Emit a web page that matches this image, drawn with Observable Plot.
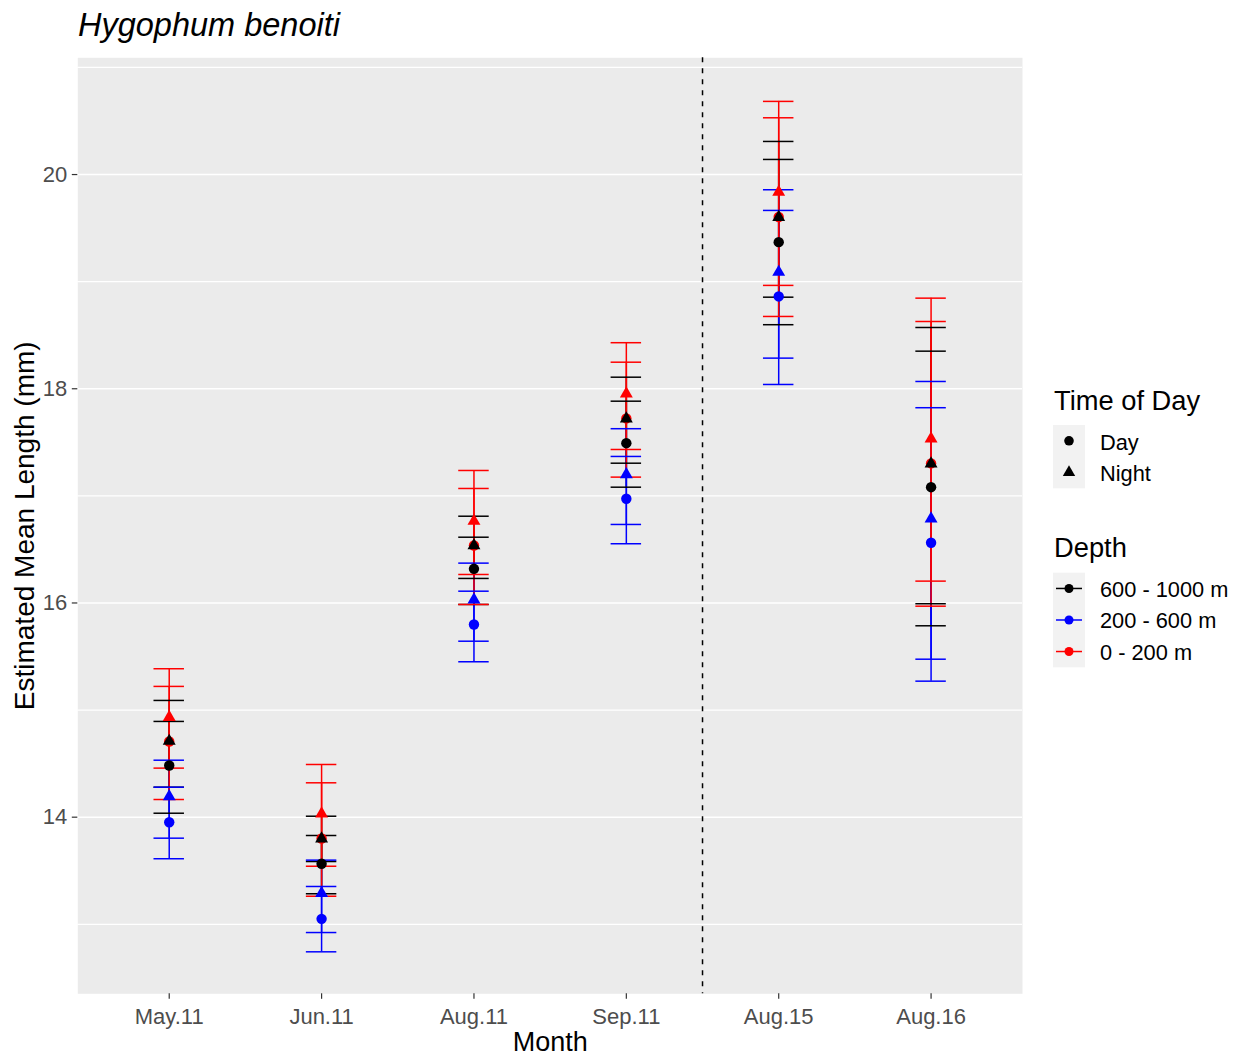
<!DOCTYPE html>
<html><head><meta charset="utf-8">
<script src="https://cdn.jsdelivr.net/npm/d3@7"></script>
<script src="https://cdn.jsdelivr.net/npm/@observablehq/plot@0.6"></script>
<style>
body{margin:0;background:#fff;font-family:"Liberation Sans",Arial,sans-serif;}
#wrap{position:relative;width:1239px;height:1057px;overflow:hidden;}
#title{position:relative;height:50px;}
#title span{position:absolute;left:78px;top:9px;font-size:32.5px;font-style:italic;line-height:32px;color:#000;white-space:nowrap;}
#legend{position:absolute;left:1040px;top:370px;}
</style></head><body>
<div id="wrap"><div id="title"><span>Hygophum benoiti</span></div><div id="chart"></div><svg id="legend" width="199" height="310"></svg></div>
<script>
const months = ["May.11", "Jun.11", "Aug.11", "Sep.11", "Aug.15", "Aug.16"];
const depthLevels = ["600 - 1000 m", "200 - 600 m", "0 - 200 m"];
const depthColors = ["#000000", "#0000ff", "#ff0000"];
const times = ["Day", "Night"];
const majorTicks = [14, 16, 18, 20];
const minorTicks = [13, 15, 17, 19, 21];

// Estimated mean length (mm) with interval bounds, one value per month
const deepDayMean = [14.483, 13.565, 16.319, 17.492, 19.369, 17.081];
const deepDayLo = [14.037, 13.285, 15.986, 17.081, 18.598, 15.787];
const deepDayHi = [14.894, 13.829, 16.614, 17.884, 20.141, 18.351];
const deepNightMean = [14.710, 13.798, 16.537, 17.720, 19.602, 17.300];
const deepNightLo = [14.280, 13.586, 16.229, 17.305, 18.855, 15.993];
const deepNightHi = [15.090, 14.009, 16.810, 18.108, 20.309, 18.572];
const midDayMean = [13.953, 13.051, 15.799, 16.973, 18.862, 16.562];
const midDayLo = [13.612, 12.743, 15.451, 16.553, 18.040, 15.270];
const midDayHi = [14.280, 13.353, 16.110, 17.368, 19.665, 17.823];
const midNightMean = [14.193, 13.290, 16.030, 17.200, 19.089, 16.786];
const midNightLo = [13.804, 12.923, 15.643, 16.733, 18.286, 15.475];
const midNightHi = [14.532, 13.599, 16.372, 17.627, 19.858, 18.068];
const shallowDayMean = [14.707, 13.801, 16.537, 17.723, 19.604, 17.303];
const shallowDayLo = [14.165, 13.262, 15.986, 17.175, 18.675, 15.970];
const shallowDayHi = [15.221, 14.321, 17.069, 18.248, 20.530, 18.628];
const shallowNightMean = [14.934, 14.032, 16.764, 17.953, 19.836, 17.533];
const shallowNightLo = [14.458, 13.542, 16.266, 17.433, 18.965, 16.204];
const shallowNightHi = [15.386, 14.492, 17.237, 18.430, 20.683, 18.846];

const series = [
  {depth: depthLevels[0], time: "Day", mean: deepDayMean, lo: deepDayLo, hi: deepDayHi},
  {depth: depthLevels[0], time: "Night", mean: deepNightMean, lo: deepNightLo, hi: deepNightHi},
  {depth: depthLevels[1], time: "Day", mean: midDayMean, lo: midDayLo, hi: midDayHi},
  {depth: depthLevels[1], time: "Night", mean: midNightMean, lo: midNightLo, hi: midNightHi},
  {depth: depthLevels[2], time: "Day", mean: shallowDayMean, lo: shallowDayLo, hi: shallowDayHi},
  {depth: depthLevels[2], time: "Night", mean: shallowNightMean, lo: shallowNightLo, hi: shallowNightHi}
];
const rows = series.flatMap(s => months.map((m, i) => ({
  month: m, i, depth: s.depth, time: s.time, mean: s.mean[i], lo: s.lo[i], hi: s.hi[i]
})));
const depthIdx = d => depthLevels.indexOf(d.depth);
const barRows = rows.slice().sort((a, b) => depthIdx(a) - depthIdx(b));
const pointOrder = [2, 0, 1];
const pointRows = rows.slice().sort((a, b) => pointOrder.indexOf(depthIdx(a)) - pointOrder.indexOf(depthIdx(b)));
const capHalf = 0.1;
const breakPos = (months.indexOf("Sep.11") + months.indexOf("Aug.15")) / 2;

const chart = Plot.plot({
  width: 1239, height: 1007,
  marginLeft: 77.3, marginRight: 217, marginTop: 7.3, marginBottom: 63.7,
  style: {fontFamily: "Liberation Sans, Arial, sans-serif", background: "white", overflow: "visible"},
  x: {domain: [-0.6, months.length - 1 + 0.6], axis: null},
  y: {domain: [12.351, 21.09], axis: null},
  color: {domain: depthLevels, range: depthColors},
  marks: [
    Plot.frame({fill: "#ebebeb", stroke: "none"}),
    Plot.gridY(minorTicks, {stroke: "white", strokeOpacity: 1, strokeWidth: 1.2}),
    Plot.gridY(majorTicks, {stroke: "white", strokeOpacity: 1, strokeWidth: 1.6}),
    Plot.axisY(majorTicks, {tickSize: 5.5, tickPadding: 5, fontSize: 22, fill: "#4d4d4d", stroke: "#333333", strokeWidth: 1.2, label: null, tickFormat: d => String(d)}),
    Plot.axisX(d3.range(months.length), {tickSize: 5.5, tickPadding: 9, fontSize: 22, fill: "#4d4d4d", stroke: "#333333", strokeWidth: 1.2, label: null, tickFormat: i => months[i]}),
    Plot.ruleX([breakPos], {stroke: "black", strokeWidth: 1.5, strokeDasharray: "5,6"}),
    Plot.ruleX(barRows, {x: "i", y1: "lo", y2: "hi", stroke: "depth", strokeWidth: 1.5}),
    Plot.ruleY(barRows, {y: "lo", x1: d => d.i - capHalf, x2: d => d.i + capHalf, stroke: "depth", strokeWidth: 1.5}),
    Plot.ruleY(barRows, {y: "hi", x1: d => d.i - capHalf, x2: d => d.i + capHalf, stroke: "depth", strokeWidth: 1.5}),
    Plot.dot(pointRows.filter(d => d.time === "Day"), {x: "i", y: "mean", fill: "depth", r: 5.2, symbol: "circle", stroke: "none"}),
    Plot.dot(pointRows.filter(d => d.time === "Night"), {x: "i", y: "mean", fill: "depth", r: 4.8, symbol: "triangle", stroke: "none"}),
    Plot.text(["Estimated Mean Length (mm)"], {frameAnchor: "left", rotate: -90, dx: -53, fontSize: 28, fill: "black", lineAnchor: "middle", textAnchor: "middle"}),
    Plot.text(["Month"], {frameAnchor: "bottom", dy: 49, fontSize: 27, fill: "black", lineAnchor: "middle", textAnchor: "middle"})
  ]
});
document.getElementById("chart").appendChild(chart);

// Legend
const lg = d3.select("#legend").style("font-family", "Liberation Sans, Arial, sans-serif");
lg.append("text").attr("x", 14).attr("y", 39.5).attr("font-size", 27.3).text("Time of Day");
lg.append("rect").attr("x", 13).attr("y", 55).attr("width", 32).attr("height", 63.3).attr("fill", "#f2f2f2");
const keyStep = 31.6;
times.forEach((t, k) => {
  const cy = 55 + keyStep * (k + 0.5);
  lg.append("path")
    .attr("d", d3.symbol(k === 0 ? d3.symbolCircle : d3.symbolTriangle, k === 0 ? Math.PI * 4.8 * 4.8 : Math.PI * 4.6 * 4.6)())
    .attr("transform", `translate(29,${cy})`).attr("fill", "black");
  lg.append("text").attr("x", 60).attr("y", cy + 9).attr("font-size", 21.8).text(t);
});
lg.append("text").attr("x", 14).attr("y", 186.7).attr("font-size", 27.3).text("Depth");
lg.append("rect").attr("x", 13).attr("y", 202.7).attr("width", 32).attr("height", 94.6).attr("fill", "#f2f2f2");
depthLevels.forEach((dl, k) => {
  const cy = 202.7 + 31.53 * (k + 0.5);
  lg.append("line").attr("x1", 16).attr("x2", 42).attr("y1", cy).attr("y2", cy).attr("stroke", depthColors[k]).attr("stroke-width", 1.5);
  lg.append("circle").attr("cx", 29).attr("cy", cy).attr("r", 4.5).attr("fill", depthColors[k]);
  lg.append("text").attr("x", 60).attr("y", cy + 8.5).attr("font-size", 21.8).text(dl);
});
</script>
</body></html>
